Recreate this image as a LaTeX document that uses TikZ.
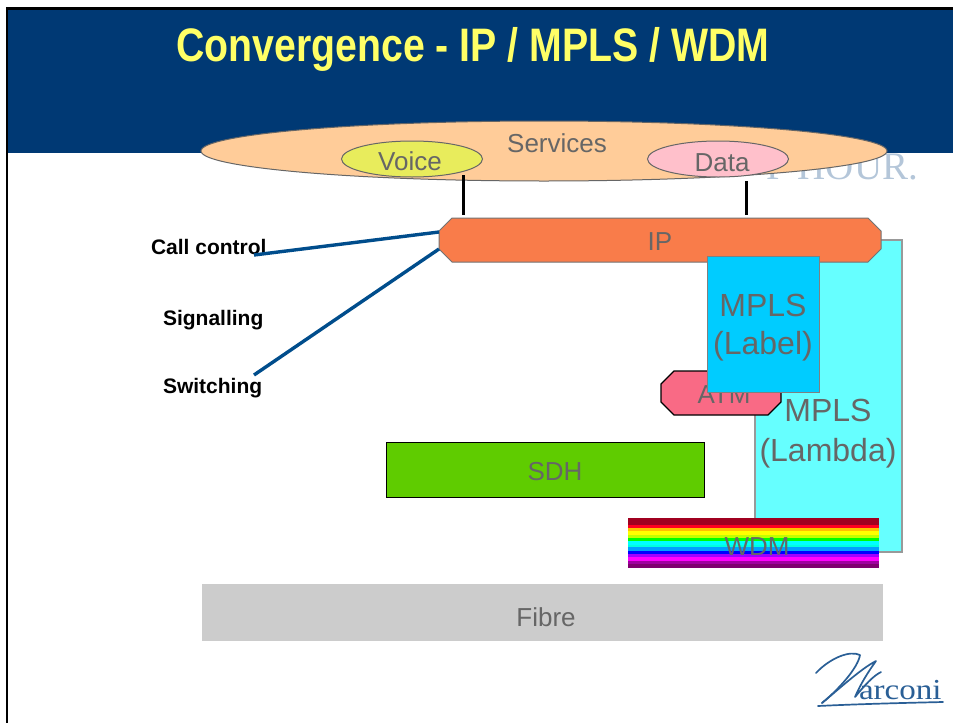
\documentclass[tikz,border=0pt]{standalone}
\usepackage{fontspec}
\setmainfont{Liberation Sans}
\newfontfamily\serifface{Liberation Serif}
\usetikzlibrary{shapes.geometric,calc}
\definecolor{hdr}{HTML}{003974}
\definecolor{txtgray}{HTML}{666666}
\definecolor{linkblue}{HTML}{004D8C}
\definecolor{logoblue}{HTML}{2A5F96}
\definecolor{titlecol}{HTML}{FFFF66}
\definecolor{svc}{HTML}{FFCC99}
\definecolor{voicecol}{HTML}{E8EC5C}
\definecolor{datacol}{HTML}{FFC0CB}
\definecolor{lambdacol}{HTML}{66FFFF}
\definecolor{labelcol}{HTML}{00CCFF}
\definecolor{ipcol}{HTML}{F97C4A}
\definecolor{atmcol}{HTML}{F96A85}
\definecolor{sdhcol}{HTML}{5FCC00}
\definecolor{fibrecol}{HTML}{CCCCCC}
\definecolor{hourcol}{HTML}{B4C6D9}
\newcommand{\fs}[1]{\fontsize{#1}{#1}\selectfont}
\newcommand{\octagonpath}[4]{(#1+13,#2) -- (#3-13,#2) -- (#3,#2+13) -- (#3,#4-13) -- (#3-13,#4) -- (#1+13,#4) -- (#1,#4-13) -- (#1,#2+13) -- cycle}
\tikzset{
  x=1pt,y=-1pt,
  every node/.style={inner sep=0pt,outer sep=0pt,text=txtgray},
  oval/.style={ellipse,draw=black!60,line width=1pt,minimum width=#1},
  layerbox/.style={rectangle,draw=black,line width=1pt},
  sidelabel/.style={anchor=west,text=black,font=\bfseries\fs{21}},
  hostlink/.style={draw=black,line width=3pt},
  bluelink/.style={draw=linkblue,line width=3.4pt},
  logostroke/.style={draw=logoblue,line width=1.7pt,line cap=round,line join=round},
}
\begin{document}
\begin{tikzpicture}
\useasboundingbox (0,0) rectangle (953,723);
\fill[white] (0,0) rectangle (953,723);
% frame and header
\fill[black] (6,7) rectangle (953,10);
\fill[black] (6,7) rectangle (8,723);
\fill[hdr] (8,10) rectangle (953,153);
\node[anchor=east,text=hourcol,font=\serifface\fs{39}] (hour) at (918,167) {P HOUR.};
\node[text=titlecol,font=\bfseries\fs{47}] (title) at (473,49) {\scalebox{0.835}[1]{Convergence - IP / MPLS / WDM}};
% services
\node[oval=686pt,minimum height=60pt,fill=svc] (services) at (544,151) {};
\node[font=\fs{26}] (servicestxt) at (557,143) {Services};
\node[oval=141pt,minimum height=36pt,fill=voicecol] (voice) at (412,159) {};
\node[font=\fs{26}] (voicetxt) at (410,161) {Voice};
\node[oval=141pt,minimum height=36pt,fill=datacol] (data) at (718,159) {};
\node[font=\fs{26}] (datatxt) at (722,163) {Data};
% lambda below IP
\node[rectangle,draw=black!40,line width=1.5pt,fill=lambdacol,minimum width=147pt,minimum height=312pt] (lambda) at (828.5,396) {};
\node[font=\fs{32},align=center] (lambdatxt) at (828,434) {MPLS\\[8pt](Lambda)};
% IP
\draw[draw=black!55,line width=1pt,fill=ipcol] \octagonpath{439}{218}{881}{262};
\node[rectangle,minimum width=442pt,minimum height=44pt] (ip) at (660,240) {};
\node[font=\fs{26}] (iptxt) at (660,241.5) {IP};
% ATM
\draw[draw=black,line width=1.2pt,fill=atmcol] \octagonpath{661}{371}{781}{415};
\node[rectangle,minimum width=120pt,minimum height=44pt,font=\fs{26}] (atm) at (721,395) {\hspace{6pt}ATM};
% MPLS label
\node[rectangle,draw=black!50,line width=1pt,fill=labelcol,minimum width=112pt,minimum height=136pt] (label) at (763,324) {};
\node[font=\fs{32},align=center] (labeltxt) at (763,328) {MPLS\\[6pt](Label)};
% SDH
\node[layerbox,fill=sdhcol,minimum width=318pt,minimum height=55pt] (sdh) at (545,469.5) {};
\node[font=\fs{26}] (sdhtxt) at (555,472) {SDH};
% WDM rainbow
\foreach \ya/\yb/\col in {518/525/A00020,525/528/FF0020,528/531/FFC000,531/535/FFFF00,535/538/C0FF00,538/541/00FF00,541/545/00FFFF,545/547/00FFE0,547/551/00A0FF,551/554/0000FF,554/557/A000FF,557/561/FF00FF,561/564/A000A0,564/568/800070}
  {\definecolor{bandcol}{HTML}{\col}\fill[bandcol] (628,\ya) rectangle (879,\yb);}
\node[font=\fs{26}] (wdm) at (757,547) {WDM};
% Fibre
\node[rectangle,fill=fibrecol,minimum width=681pt,minimum height=57pt] (fibre) at (542.5,612.5) {};
\node[font=\fs{26}] (fibretxt) at (546,617) {Fibre};
% side labels
\node[sidelabel] (call) at (151,247) {Call control};
\node[sidelabel] (sig) at (163,320) {Signalling};
\node[sidelabel] (sw) at (163,388) {Switching};
% connectors
\coordinate (voicefoot) at (463,175);
\coordinate (datafoot) at (746,181);
\coordinate (ipv) at (463,215);
\coordinate (ipd) at (746,215);
\draw[hostlink] (voicefoot) -- (ipv);
\draw[hostlink] (datafoot) -- (ipd);
\coordinate (callend) at (254,255);
\coordinate (swend) at (254,375);
\draw[bluelink] (callend) -- ($(ip.west)+(0,-8)$);
\draw[bluelink] (swend) -- ($(ip.west)+(0,9)$);
% logo
\draw[logostroke] (816,673) .. controls (830,658) and (850,650) .. (860,655) .. controls (858,668) and (838,690) .. (822,703);
\draw[logostroke] (822,703) .. controls (840,688) and (862,668) .. (876,661) .. controls (868,672) and (860,685) .. (855,697) .. controls (865,685) and (873,676) .. (881,672);
\draw[logostroke] (818,706) .. controls (860,704) and (900,703) .. (943,702);
\node[anchor=base west,text=logoblue,font=\serifface\fs{29}] (marconi) at (859,699) {\scalebox{1.14}[1]{arconi}};
\end{tikzpicture}
\end{document}
